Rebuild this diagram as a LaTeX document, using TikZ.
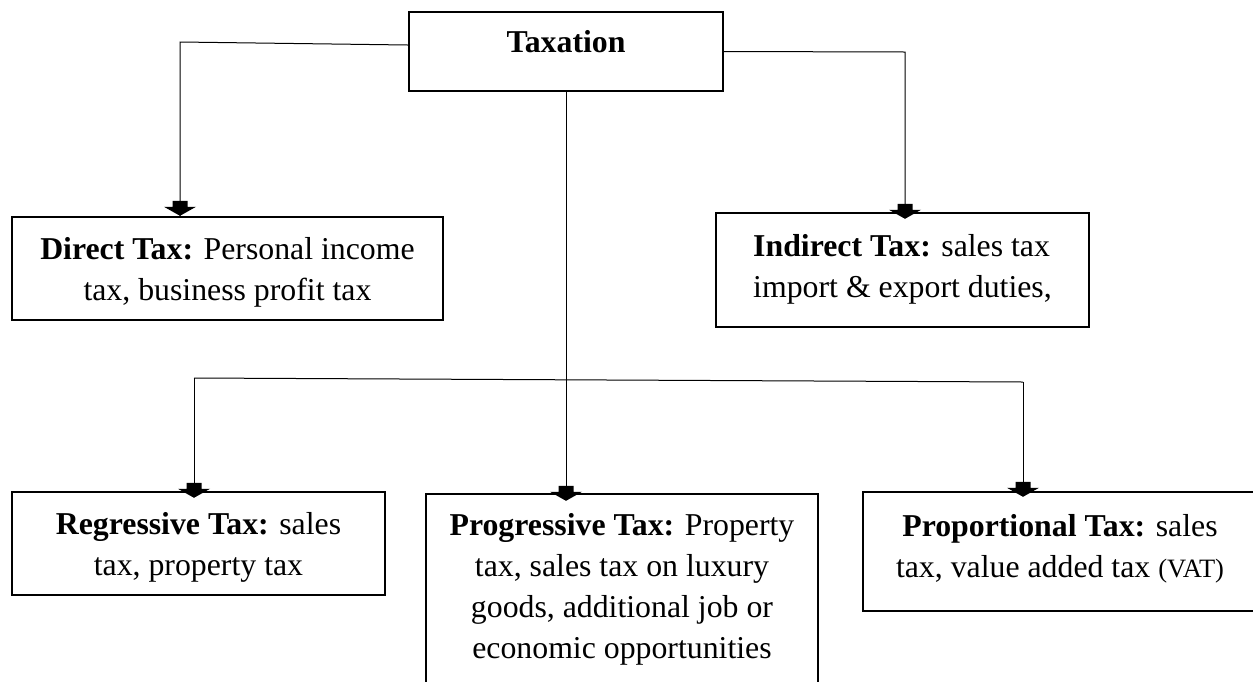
\documentclass[tikz,border=0pt]{standalone}
\usepackage{fontspec}
\setmainfont{Liberation Serif}
\usetikzlibrary{calc}
\begin{document}
\begin{tikzpicture}[x=1pt,y=-1pt,
  box/.style={draw, line width=2.4pt, inner sep=0pt},
  conn/.style={line width=1pt},
  txt/.style={align=center, font=\fontsize{31.8}{41}\selectfont, inner sep=0pt, anchor=base},
  arrowhd/.pic={\fill (-7.5,-15) -- (7.5,-15) -- (7.5,-9) -- (16,-9) -- (0,0) -- (-16,-9) -- (-7.5,-9) -- cycle;}
]
\useasboundingbox (0,0) rectangle (1253,681);
\fill[white] (0,0) rectangle (1253,681);
\clip (0,0) rectangle (1253,681);

% boxes
\node[box, minimum width=314pt, minimum height=79pt] (tax) at (566,51.5) {};
\node[txt] (taxt) at (566,52) {\textbf{Taxation}};

\node[box, minimum width=431pt, minimum height=103pt] (direct) at (227.5,268.5) {};
\node[txt] (directt) at (227.5,300) {\textbf{Direct Tax:} Personal income\\tax, business profit tax};

\node[box, minimum width=373pt, minimum height=114pt] (indirect) at (902.5,270) {};
\node[txt, align=left] (indirectt) at (902.5,297) {\textbf{Indirect Tax:} sales tax\\import \& export duties,};

\node[box, minimum width=373pt, minimum height=103pt] (regr) at (198.5,543.5) {};
\node[txt] (regrt) at (198.5,575) {\textbf{Regressive Tax:} sales\\tax, property tax};

\node[box, minimum width=392pt, minimum height=220pt] (prog) at (622,604) {};
\node[txt] (progt) at (622,658) {\textbf{Progressive Tax:} Property\\tax, sales tax on luxury\\goods, additional job or\\economic opportunities};

\node[box, minimum width=394pt, minimum height=119pt] (prop) at (1060,551.5) {};
\node[txt] (propt) at (1060,577) {\textbf{Proportional Tax:} sales\\tax, value added tax {\fontsize{26.5}{41}\selectfont(VAT)}};

% connectors
\coordinate (cl) at (180,42);
\draw[conn] ($(tax.west)+(0,-6.5)$) -- (cl) -- (cl |- direct.north);
\pic at (cl |- direct.north) {arrowhd};

\coordinate (cr) at (905,52);
\draw[conn] (tax.east) -- (cr) -- ($(cr |- indirect.north)+(0,6)$);
\pic at ($(cr |- indirect.north)+(0,7)$) {arrowhd};

\draw[conn] (tax.south) -- ($(tax.south |- prog.north)+(0,7)$);
\pic at ($(tax.south |- prog.north)+(0,8)$) {arrowhd};

\coordinate (bl) at (194,378);
\coordinate (br) at (1023,382);
\draw[conn] (bl) -- (br);
\draw[conn] (bl) -- ($(bl |- regr.north)+(0,6)$);
\pic at ($(bl |- regr.north)+(0,7)$) {arrowhd};
\draw[conn] (br) -- ($(br |- prop.north)+(0,5)$);
\pic at ($(br |- prop.north)+(0,6)$) {arrowhd};
\end{tikzpicture}
\end{document}
